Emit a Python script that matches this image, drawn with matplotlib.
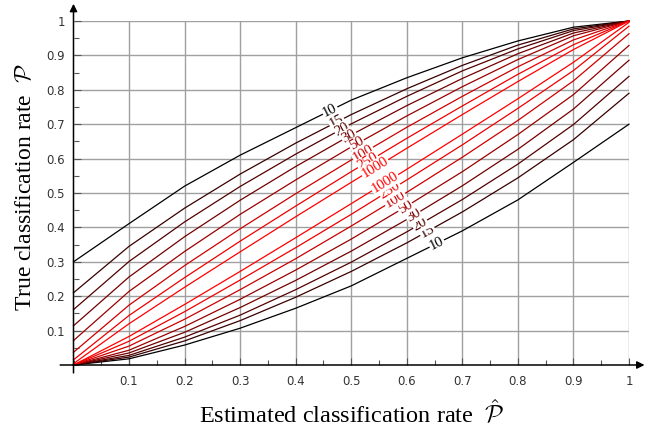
import numpy as np
import matplotlib
matplotlib.use('Agg')
from matplotlib import pyplot as plt
from matplotlib.ticker import MultipleLocator, FixedLocator

plt.rcParams['mathtext.fontset'] = 'cm'

# estimated rate on the x axis
rate = [0.0, 0.1, 0.2, 0.3, 0.4, 0.5, 0.6, 0.7, 0.8, 0.9, 1.0]
sizes = [10, 15, 20, 30, 50, 100, 250, 1000]

# upper bounds of the true rate, one list per sample size
upper_10 = [0.300, 0.411, 0.520, 0.610, 0.690, 0.770, 0.835, 0.893, 0.942, 0.982, 1.000]
upper_15 = [0.210, 0.345, 0.456, 0.555, 0.645, 0.728, 0.803, 0.871, 0.930, 0.977, 1.000]
upper_20 = [0.161, 0.301, 0.416, 0.519, 0.613, 0.701, 0.781, 0.855, 0.919, 0.972, 1.000]
upper_30 = [0.114, 0.256, 0.373, 0.479, 0.577, 0.669, 0.754, 0.833, 0.905, 0.965, 1.000]
upper_50 = [0.071, 0.214, 0.330, 0.438, 0.538, 0.634, 0.724, 0.809, 0.888, 0.957, 1.000]
upper_100 = [0.037, 0.174, 0.289, 0.396, 0.498, 0.596, 0.691, 0.781, 0.867, 0.945, 1.000]
upper_250 = [0.015, 0.144, 0.254, 0.360, 0.462, 0.562, 0.659, 0.753, 0.845, 0.931, 1.000]
upper_1000 = [0.004, 0.120, 0.226, 0.329, 0.431, 0.531, 0.630, 0.728, 0.824, 0.917, 1.000]

# lower bounds
lower_10 = [0.000, 0.018, 0.058, 0.107, 0.165, 0.230, 0.310, 0.390, 0.480, 0.589, 0.700]
lower_15 = [0.000, 0.023, 0.070, 0.129, 0.197, 0.272, 0.355, 0.445, 0.544, 0.655, 0.790]
lower_20 = [0.000, 0.028, 0.081, 0.145, 0.219, 0.299, 0.387, 0.481, 0.584, 0.699, 0.839]
lower_30 = [0.000, 0.035, 0.095, 0.167, 0.246, 0.331, 0.423, 0.521, 0.627, 0.744, 0.886]
lower_50 = [0.000, 0.043, 0.112, 0.191, 0.276, 0.366, 0.462, 0.562, 0.670, 0.786, 0.929]
lower_100 = [0.000, 0.055, 0.133, 0.219, 0.309, 0.404, 0.502, 0.604, 0.711, 0.826, 0.963]
lower_250 = [0.000, 0.069, 0.155, 0.247, 0.341, 0.438, 0.538, 0.640, 0.746, 0.856, 0.985]
lower_1000 = [0.000, 0.083, 0.176, 0.272, 0.370, 0.469, 0.569, 0.671, 0.774, 0.880, 0.996]

uppers = [upper_10, upper_15, upper_20, upper_30, upper_50, upper_100, upper_250, upper_1000]
lowers = [lower_10, lower_15, lower_20, lower_30, lower_50, lower_100, lower_250, lower_1000]

tick_vals = [0.1, 0.2, 0.3, 0.4, 0.5, 0.6, 0.7, 0.8, 0.9, 1.0]
tick_text = ['0.1', '0.2', '0.3', '0.4', '0.5', '0.6', '0.7', '0.8', '0.9', '1']

# where the n-labels sit along each curve (x position)
upper_lab_x = [0.462, 0.474, 0.483, 0.496, 0.510, 0.521, 0.530, 0.543]
lower_lab_x = [0.654, 0.637, 0.624, 0.612, 0.597, 0.579, 0.570, 0.561]
redness = [0.0, 0.22, 0.32, 0.45, 0.6, 0.8, 0.93, 1.0]

fig = plt.figure(figsize=(6.46, 4.32), dpi=100)
ax = fig.add_axes([73.5 / 646, 67 / 432, 555.5 / 646, 344 / 432])
ax.set_xlim(0, 1)
ax.set_ylim(0, 1)
for s in ax.spines.values():
    s.set_visible(False)

ax.xaxis.set_major_locator(FixedLocator(tick_vals))
ax.yaxis.set_major_locator(FixedLocator(tick_vals))
ax.set_xticklabels(tick_text)
ax.set_yticklabels(tick_text)
ax.xaxis.set_minor_locator(MultipleLocator(0.05))
ax.yaxis.set_minor_locator(MultipleLocator(0.05))
ax.tick_params(which='major', direction='in', length=5, width=0.8, color='#555555',
               labelsize=8.5, labelcolor='#333333')
ax.tick_params(axis='x', which='major', pad=7)
ax.tick_params(axis='y', which='major', pad=6)
ax.tick_params(which='minor', direction='in', length=3.5, width=0.8, color='#555555')
ax.grid(True, which='major', color='#a0a0a0', lw=1.0, zorder=0)
ax.set_axisbelow(True)

for i, n in enumerate(sizes):
    c = (redness[i], 0, 0)
    for ys, lx in ((uppers[i], upper_lab_x[i]), (lowers[i], lower_lab_x[i])):
        ax.plot(rate, ys, color=c, lw=0.9, zorder=2, clip_on=False)
        ly = np.interp(lx, rate, ys)
        p1 = ax.transData.transform((lx - 0.01, np.interp(lx - 0.01, rate, ys)))
        p2 = ax.transData.transform((lx + 0.01, np.interp(lx + 0.01, rate, ys)))
        ang = np.degrees(np.arctan2(p2[1] - p1[1], p2[0] - p1[0]))
        ax.text(lx, ly, str(n), color=c, fontsize=10.5, family='Liberation Serif',
                rotation=ang, rotation_mode='anchor', ha='center', va='center',
                zorder=3, bbox=dict(boxstyle='square,pad=0.05', fc='white', ec='none'))

# axis lines with arrow heads
ax.annotate('', xy=(1.028, 0), xytext=(-0.024, 0), xycoords='data',
            arrowprops=dict(arrowstyle='-|>', color='black', lw=1.1, mutation_scale=11,
                            shrinkA=0, shrinkB=0), annotation_clip=False, zorder=4)
ax.annotate('', xy=(0, 1.05), xytext=(0, -0.023), xycoords='data',
            arrowprops=dict(arrowstyle='-|>', color='black', lw=1.1, mutation_scale=11,
                            shrinkA=0, shrinkB=0), annotation_clip=False, zorder=4)

fig.text(0.545, 0.02, r'Estimated classification rate  $\hat{\mathcal{P}}$',
         ha='center', va='baseline', fontsize=17.5, family='Liberation Serif')
fig.text(0.04, 0.566, r'True classification rate  $\mathcal{P}$', rotation=90,
         ha='center', va='center', fontsize=17, family='Liberation Serif')

fig.savefig('out.png', dpi=100)
